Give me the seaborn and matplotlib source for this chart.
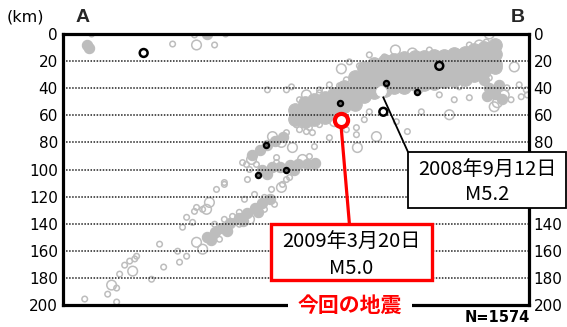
import matplotlib
matplotlib.use("Agg")
import matplotlib.pyplot as plt
from matplotlib.patches import Rectangle
import seaborn as sns

# ---------------------------------------------------------------
# Hypocentre cross-section along A-B: distance (km) and depth (km)
# ---------------------------------------------------------------

# densely packed part of the seismic zone (large filled symbols)
core_x = [171, 171,
          178, 178, 178,
          185, 185, 185,
          193, 193, 193,
          200, 200, 200,
          207, 207, 207,
          215, 215, 215, 215,
          222, 222, 222, 222,
          229, 229, 229, 229,
          237, 237, 237, 237,
          244, 244, 244, 244,
          251, 251, 251, 251,
          259, 259, 259, 259,
          266, 266, 266, 266,
          273, 273, 273, 273,
          281, 281, 281, 281,
          288, 288, 288, 288,
          296, 296, 296, 296,
          303, 303, 303, 303,
          310, 310, 310, 310,
          318, 318, 318, 318]
core_d = [56, 63,
          51, 58, 64,
          49, 56, 63,
          47, 54, 61,
          44, 51, 58,
          39, 46, 53,
          32, 39, 46, 52,
          25, 32, 39, 46,
          22, 29, 36, 43,
          20, 27, 34, 41,
          19, 26, 33, 39,
          18, 25, 32, 39,
          17, 24, 31, 37,
          17, 24, 31, 37,
          16, 23, 30, 36,
          16, 23, 30, 35,
          15, 22, 29, 34,
          14, 21, 28, 33,
          12, 19, 26, 30,
          10, 17, 24, 27,
          8, 15, 22, 24]

# smaller clusters (medium filled symbols)
patch_x = [17.6, 19.1, 105.9,
           310, 314, 318, 323, 312, 321,
           139.7, 144.9, 150.7, 156.6, 162.5,
           147, 153.7, 160.3, 167, 173.5, 180, 186, 150.7, 170.6,
           105.9, 111.8, 117.6, 123.5, 129.4, 135.3, 141.2, 147, 152.9,
           108.8, 120.6, 132.4, 144]
patch_d = [8.1, 10.3, 0,
           34, 40, 44, 48, 46, 38,
           89, 85.3, 81.6, 78.7, 75.7,
           100, 98.5, 97.8, 97, 96.3, 95.6, 94.9, 103, 100,
           150, 146.3, 143, 139.4, 136, 132.4, 128.7, 125, 122,
           152, 145.6, 138, 131]

# isolated small events (small open circles)
small_x = [80.9, 111.8, 21.3, 97, 119.9,
           150.7, 164.7, 168.4, 179.4, 211, 208.8, 299.3, 311.8, 225.7, 196.3, 189,
           336, 341.2, 330, 337.5, 327, 342, 314,
           253.7, 245.6, 264, 208.8, 216.2, 174.3, 164.7, 196.3, 216.2, 142.6, 157.4,
           189, 222, 288.2, 277.2, 299.3,
           172, 179.4, 157.4, 135.3, 137.5, 132.4, 136, 119, 113.2, 103, 164.7, 153.7,
           148.5, 181.6, 185.3, 185.3, 183.8, 167, 161.8, 130, 125,
           119, 98.5, 97, 91.2, 95.6, 88.2, 71.3, 105.9, 91.2, 84.6, 86, 54.4, 49.3,
           45.6, 53, 74.3, 41.9, 65.4, 39.7, 33.1, 16.2, 39.7,
           111.8, 119, 130, 144.9, 148.5, 122.8, 115.4, 133.8, 141.2, 155.9,
           174.3, 189, 203.7, 218.4, 236.8, 269.9, 299.3, 181.6, 203.7, 225.7, 262.5,
           291.9, 314]
small_d = [7.4, 8.1, 0, 0.7, 0,
           41.2, 41.2, 39, 50, 20.6, 33.8, 11.8, 5.9, 15.4, 37.5, 41.2,
           37.5, 41.2, 48.5, 46.3, 39.7, 45, 41,
           72, 64.7, 57.4, 70.6, 69.1, 70.6, 72.8, 76.5, 74.3, 96.3, 91.2,
           66.9, 63.2, 48.5, 44.9, 47,
           67, 72, 94.9, 96.3, 100, 94.9, 107.4, 111, 114.7, 129.4, 107.4, 114.7,
           120.6, 90.4, 97.8, 83.1, 72.8, 105.9, 111, 131.6, 134.6,
           109.6, 128, 130.9, 135.3, 139, 142.6, 155.1, 151.5, 164, 160.3, 168.4, 164, 167.6,
           170.6, 166, 172, 177.2, 181, 187.5, 192, 195.6, 197.8,
           140.4, 136.8, 140.4, 133, 129.4, 145.6, 151.5, 122, 118.4, 125.7,
           48.5, 43.4, 38.2, 23.5, 16.9, 11.8, 8.1, 69.1, 66.2, 57.4, 41.9,
           39, 32.4]

# larger isolated events (large open circles)
large_x = [98.5, 314, 179.4, 205.1, 257.4, 291.9, 306.6, 332.4, 244.9,
           325, 319.9,
           284.6, 317.6, 230.9, 154.4, 169.1, 216.9, 200,
           161, 176.5, 108, 161, 139,
           105.9, 98.5, 103, 51.5, 36, 137.5]
large_d = [8.1, 0, 44.9, 25.7, 14, 15.4, 8.1, 24.3, 11.8,
           45, 50.7,
           59.6, 53.7, 75.7, 75.7, 83.8, 83.8, 64.7,
           80, 92.6, 124.3, 113.2, 92.6,
           129.4, 153.7, 158.8, 175, 185.3, 136.8]

# events plotted in black
black_x = [204.4, 238.2, 261, 150, 164.7, 143.4]
black_d = [50.7, 36, 42.6, 81.6, 100.7, 103.7]
black_big_x = [59.6, 277.2, 236]
black_big_d = [14, 23.5, 57.4]

# highlighted earthquakes: 2009-03-20 (this event) and 2008-09-12
event_dates = ["2009年3月20日", "2008年9月12日"]
event_mags = [5.0, 5.2]
event_x = [204.5, 234.0]
event_d = [63.2, 42.4]

depth_ticks = [0, 20, 40, 60, 80, 100, 120, 140, 160, 180, 200]
n_events = 1574

# ---------------------------------------------------------------
W_PX, H_PX = 567, 327
GRAY = "#bdbdbd"

sns.set_style("white")
plt.rcParams["font.family"] = ["DejaVu Sans", "Noto Sans CJK JP"]
JP = ["Noto Sans CJK JP", "DejaVu Sans"]


def fpos(px, py):
    """Image-style pixel position (origin top-left) -> figure fraction."""
    return px / W_PX, 1 - py / H_PX


fig = plt.figure(figsize=(W_PX / 100, H_PX / 100), dpi=100)
left, top = fpos(62.7, 34)
right, bottom = fpos(528.7, 305)
ax = fig.add_axes([left, bottom, right - left, top - bottom])

sns.scatterplot(x=core_x, y=core_d, ax=ax, s=95, color=GRAY,
                edgecolor=GRAY, linewidth=0.8, zorder=1, legend=False)
sns.scatterplot(x=patch_x, y=patch_d, ax=ax, s=55, color=GRAY,
                edgecolor=GRAY, linewidth=0.8, zorder=1, legend=False)
sns.scatterplot(x=small_x, y=small_d, ax=ax, s=16, facecolor="none",
                edgecolor=GRAY, linewidth=1.1, zorder=1, legend=False)
sns.scatterplot(x=large_x, y=large_d, ax=ax, s=48, facecolor="none",
                edgecolor=GRAY, linewidth=1.1, zorder=1, legend=False)
sns.scatterplot(x=black_x, y=black_d, ax=ax, s=14, facecolor="#666666",
                edgecolor="black", linewidth=1.6, zorder=3, legend=False)
sns.scatterplot(x=black_big_x, y=black_big_d, ax=ax, s=32, facecolor="none",
                edgecolor="black", linewidth=1.8, zorder=3, legend=False)

# this event (red) and the 2008 event (white)
sns.scatterplot(x=event_x[:1], y=event_d[:1], ax=ax, s=90, facecolor="white",
                edgecolor="red", linewidth=3.0, zorder=6, legend=False)
sns.scatterplot(x=event_x[1:], y=event_d[1:], ax=ax, s=50, facecolor="white",
                edgecolor="white", linewidth=0.5, zorder=6, legend=False)

ax.set_xlim(0, 343)
ax.set_ylim(200, 0)
ax.set_xticks([])
ax.set_yticks(depth_ticks)
ax.set_yticklabels([str(t) for t in depth_ticks])
ax.tick_params(axis="y", length=0, labelsize=11, pad=3.5,
               left=False, right=False, labelleft=True, labelright=True,
               labelcolor="black")
# the right-hand labels behind the 2008 caption box are not shown
for tick, value in zip(ax.yaxis.get_major_ticks(), depth_ticks):
    if value in (100, 120):
        tick.label2.set_visible(False)
ax.set_xlabel("")
ax.set_ylabel("")
ax.set_axisbelow("line")
ax.grid(axis="y", linestyle=(0, (1, 1)), color="#222222", linewidth=1.1)
ax.grid(axis="x", visible=False)
for sp in ax.spines.values():
    sp.set_visible(True)
    sp.set_color("black")
    sp.set_linewidth(2.3)

# leader lines from the events to their captions
ax.annotate("", xy=(event_x[0], event_d[0]), xycoords="data",
            xytext=fpos(349.5, 225), textcoords="figure fraction",
            arrowprops=dict(arrowstyle="-", color="red", lw=2.3,
                            shrinkA=0, shrinkB=0), zorder=5)
ax.annotate("", xy=(event_x[1], event_d[1]), xycoords="data",
            xytext=fpos(408, 152), textcoords="figure fraction",
            arrowprops=dict(arrowstyle="-", color="black", lw=1.3,
                            shrinkA=0, shrinkB=0), zorder=5)


# caption boxes
def caption(x0, y0, x1, y1, edge, lw, date, mag, y_line1, y_line2):
    bx, by = fpos(x0, y1)
    rect = Rectangle((bx, by), (x1 - x0) / W_PX, (y1 - y0) / H_PX,
                     transform=fig.transFigure, facecolor="white",
                     edgecolor=edge, linewidth=lw, zorder=2)
    fig.add_artist(rect)
    cx = (x0 + x1) / 2
    fig.text(*fpos(cx, y_line1), date, ha="center", va="center",
             fontsize=14.5, family=JP, color="black", zorder=4)
    fig.text(*fpos(cx, y_line2), f"M{mag:.1f}", ha="center", va="center",
             fontsize=14.5, family=JP, color="black", zorder=4)


caption(270.5, 224, 432, 280, "red", 2.4, event_dates[0], event_mags[0], 242.5, 269)
caption(408, 152, 566, 208, "black", 1.3, event_dates[1], event_mags[1], 170, 194)

fig.text(*fpos(350, 305), "今回の地震", ha="center", va="center",
         fontsize=15, fontweight="bold", color="red", family=JP, zorder=4,
         bbox=dict(boxstyle="square,pad=0.45", facecolor="white",
                   edgecolor="none"))

fig.text(*fpos(530, 318), f"N={n_events}", ha="right", va="center",
         fontsize=10.5, fontweight="bold", color="black")
fig.text(*fpos(7, 17.5), "(km)", ha="left", va="center", fontsize=11.5,
         color="black")
fig.text(*fpos(82.5, 17.5), "A", ha="center", va="center", fontsize=14,
         fontweight="bold", family=["Liberation Sans", "DejaVu Sans"])
fig.text(*fpos(517.5, 17.5), "B", ha="center", va="center", fontsize=14,
         fontweight="bold", family=["Liberation Sans", "DejaVu Sans"])

fig.savefig("out.png", dpi=100)
